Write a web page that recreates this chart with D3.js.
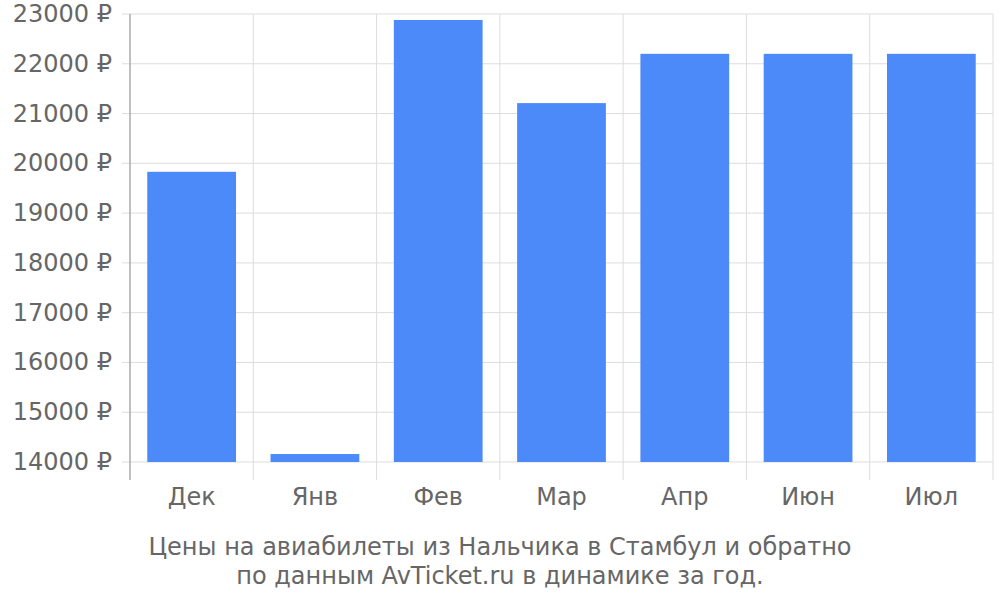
<!DOCTYPE html>
<html><head><meta charset="utf-8">
<script src="https://cdn.jsdelivr.net/npm/d3@7"></script>
<style>body{margin:0;background:#fff}text{font-family:"DejaVu Sans",sans-serif;fill:#666}</style>
</head><body><svg id="c" width="1000" height="600"></svg>
<script>
var months = ['Дек', 'Янв', 'Фев', 'Мар', 'Апр', 'Июн', 'Июл']
var prices = [19830, 14160, 22880, 21210, 22200, 22200, 22200]
var yTicks = [14000, 15000, 16000, 17000, 18000, 19000, 20000, 21000, 22000, 23000]

var svg = d3.select('#c'),
  pl = 130, pr = 993, pt = 14, pb = 462
var x = d3.scaleBand().domain(months).range([pl, pr]).paddingInner(0.28).paddingOuter(0.14)
var xb = d3.scaleBand().domain(months).range([pl, pr])
var y = d3.scaleLinear().domain([14000, 23000]).range([pb, pt])

// horizontal grid
svg.append('g').selectAll('line').data(yTicks).enter().append('line')
  .attr('x1', pl - 8).attr('x2', pr).attr('y1', y).attr('y2', y)
  .attr('stroke', '#ddd').attr('stroke-width', 1)
// vertical grid at category boundaries
var bounds = months.map(function(m) { return xb(m) }).concat([pr])
svg.append('g').selectAll('line').data(bounds.slice(1)).enter().append('line')
  .attr('x1', function(d) { return d }).attr('x2', function(d) { return d })
  .attr('y1', pt).attr('y2', pb + 18).attr('stroke', '#ddd')
// axis line
svg.append('line').attr('x1', pl).attr('x2', pl).attr('y1', pt).attr('y2', pb + 18)
  .attr('stroke', '#aaa').attr('stroke-width', 1.5)

svg.append('g').selectAll('rect').data(prices).enter().append('rect')
  .attr('x', function(d, i) { return x(months[i]) })
  .attr('width', x.bandwidth())
  .attr('y', function(d) { return y(d) })
  .attr('height', function(d) { return pb - y(d) })
  .attr('fill', '#4c8afa')

svg.append('g').selectAll('text').data(yTicks).enter().append('text')
  .attr('x', 112).attr('y', function(d) { return y(d) + 8 })
  .attr('text-anchor', 'end').style('font-size', '24px')
  .text(function(d) { return d + ' ₽' })

svg.append('g').selectAll('text').data(months).enter().append('text')
  .attr('x', function(d) { return xb(d) + xb.bandwidth() / 2 }).attr('y', 505)
  .attr('text-anchor', 'middle').style('font-size', '24px')
  .text(function(d) { return d })

var cap = ['Цены на авиабилеты из Нальчика в Стамбул и обратно', 'по данным AvTicket.ru в динамике за год.']
svg.append('g').selectAll('text').data(cap).enter().append('text')
  .attr('x', 500).attr('y', function(d, i) { return 555 + i * 29 })
  .attr('text-anchor', 'middle').style('font-size', '24px')
  .text(function(d) { return d })
</script></body></html>
